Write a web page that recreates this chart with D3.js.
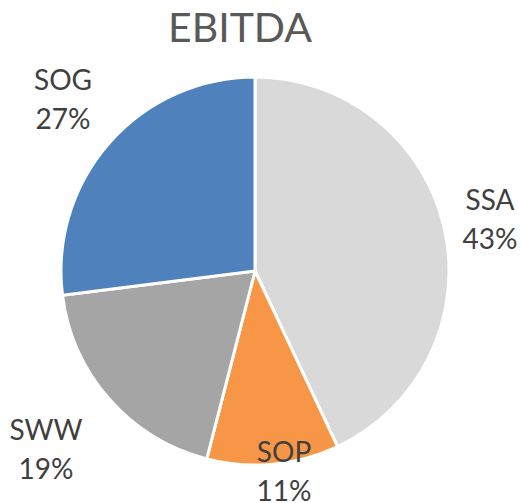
<!DOCTYPE html>
<html><head><meta charset="utf-8">
<script src="https://cdn.jsdelivr.net/npm/d3@7"></script>
<style>body{margin:0;background:#fff}</style>
</head><body>
<svg id="c" width="521" height="503"></svg>
<script>
const categories = ["SSA", "SOP", "SWW", "SOG"];
const values = [43, 11, 19, 27];
const colors = ["#d9d9d9", "#f79646", "#a5a5a5", "#4f81bd"];
const title = "EBITDA";
const labelPos = [[490, 200], [284, 452], [46, 430], [63, 80]];

const svg = d3.select("#c");
const cx = 255, cy = 271, r = 194;
const font = "Lato, 'Open Sans', sans-serif";

svg.append("text").attr("x", 240).attr("y", 42).attr("text-anchor", "middle")
  .attr("font-family", font).attr("font-size", 41).attr("fill", "#595959").text(title);

const pie = d3.pie().sort(null).value(d => d)(values);
const arc = d3.arc().innerRadius(0).outerRadius(r);
const g = svg.append("g").attr("transform", `translate(${cx},${cy})`);
g.selectAll("path").data(pie).join("path")
  .attr("d", arc).attr("fill", (d, i) => colors[i])
  .attr("stroke", "#fff").attr("stroke-width", 3).attr("stroke-linejoin", "round");

const total = d3.sum(values);
categories.forEach((c, i) => {
  const [x, y] = labelPos[i];
  const t = svg.append("text").attr("text-anchor", "middle")
    .attr("font-family", font).attr("font-size", 28).attr("fill", "#404040");
  t.append("tspan").attr("x", x).attr("y", y + 10).text(c);
  t.append("tspan").attr("x", x).attr("y", y + 49).text(Math.round(values[i] / total * 100) + "%");
});
</script>
</body></html>
